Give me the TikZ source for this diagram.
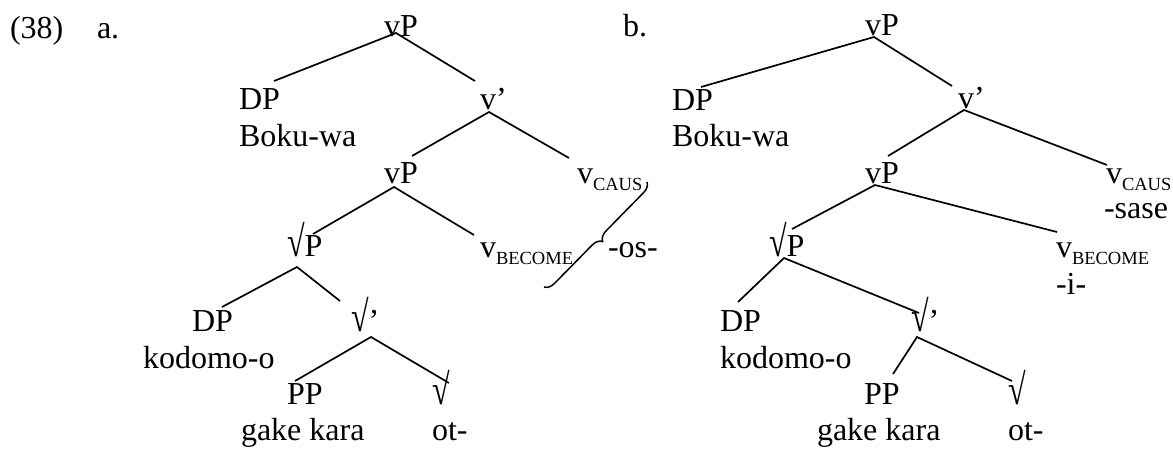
\documentclass[tikz,border=0pt]{standalone}
\usepackage{graphicx}
\usepackage{fontspec}
\setmainfont{Liberation Serif}
\usetikzlibrary{decorations.pathreplacing}
\newcommand\treefs{\fontsize{32}{37}\selectfont}
\newcommand\subfs{\fontsize{18.5}{20}\selectfont}
\newcommand\vsub[1]{v\raisebox{-7.5pt}{\subfs #1}}
\newcommand\sqrtsym{\scalebox{1}[1.35]{√}}
\begin{document}
\begin{tikzpicture}[x=1pt,y=-1pt,
  lbl/.style={anchor=base west,inner sep=0pt,outer sep=0pt,font=\treefs},
  edge/.style={line width=1.7pt},
  bracestyle/.style={line width=1.5pt,decorate,decoration={brace,amplitude=10pt}}]
\useasboundingbox (0,0) rectangle (1173,448);
% ---------- labels
\node[lbl] (ex) at (10,38) {(38)};
\node[lbl] (la) at (97,38) {a.};
\node[lbl] (lb) at (623,36) {b.};
% ---------- tree a
\node[lbl] (aR) at (384,36) {vP};
\node[lbl] (aDP) at (239,109) {DP};
\node[lbl] (aBoku) at (239,146) {Boku-wa};
\node[lbl] (aV) at (480,109) {v’};
\node[lbl] (aVP) at (384,183) {vP};
\node[lbl] (aCaus) at (577,183) {\vsub{CAUS}};
\node[lbl] (aRP) at (287,256) {\sqrtsym P};
\node[lbl] (aBec) at (480,257) {\vsub{BECOME}};
\node[lbl] (aOs) at (608,257) {-os-};
\node[lbl] (aDPb) at (192,331) {DP};
\node[lbl] (aKod) at (143,368) {kodomo-o};
\node[lbl] (aRb) at (351,331) {\sqrtsym’};
\node[lbl] (aPP) at (287,404) {PP};
\node[lbl] (aGake) at (241,440) {gake kara};
\node[lbl] (aRt) at (432,404) {\sqrtsym};
\node[lbl] (aOt) at (432,440) {ot-};
% ---------- tree b
\node[lbl] (bR) at (865,35) {vP};
\node[lbl] (bDP) at (672,110) {DP};
\node[lbl] (bBoku) at (672,146) {Boku-wa};
\node[lbl] (bV) at (958,108) {v’};
\node[lbl] (bVP) at (865,183) {vP};
\node[lbl] (bCaus) at (1106,183) {\vsub{CAUS}};
\node[lbl] (bSase) at (1104,218) {-sase};
\node[lbl] (bRP) at (769,256) {\sqrtsym P};
\node[lbl] (bBec) at (1056,257) {\vsub{BECOME}};
\node[lbl] (bI) at (1056,294) {-i-};
\node[lbl] (bDPb) at (720,331) {DP};
\node[lbl] (bKod) at (720,368) {kodomo-o};
\node[lbl] (bRb) at (911,331) {\sqrtsym’};
\node[lbl] (bPP) at (864,404) {PP};
\node[lbl] (bGake) at (817,440) {gake kara};
\node[lbl] (bRt) at (1008,404) {\sqrtsym};
\node[lbl] (bOt) at (1008,440) {ot-};
% ---------- connector points, tree a
\coordinate (aRj) at (396,33);
\coordinate (aDPt) at (274,81);
\coordinate (aVt) at (475,81);
\coordinate (aVj) at (489,112);
\coordinate (aVPt) at (412,156);
\coordinate (aCaust) at (569,158);
\coordinate (aVPj) at (394,187);
\coordinate (aRPt) at (313,234);
\coordinate (aBect) at (474,235);
\coordinate (aRPj) at (297,267);
\coordinate (aDPbt) at (222,307);
\coordinate (aRbt) at (340,301);
\coordinate (aRbj) at (371,337);
\coordinate (aPPt) at (295,381);
\coordinate (aRtt) at (449,383);
\coordinate (aBrTop) at (647,182);
\coordinate (aBrBot) at (544,287);
% ---------- connector points, tree b
\coordinate (bRj) at (874,37);
\coordinate (bDPt) at (701,87);
\coordinate (bVt) at (952,86);
\coordinate (bVj) at (964,110);
\coordinate (bVPt) at (888,156);
\coordinate (bCaust) at (1107,165);
\coordinate (bVPj) at (875,185);
\coordinate (bRPt) at (792,229);
\coordinate (bBect) at (1057,232);
\coordinate (bRPj) at (784,258);
\coordinate (bDPbt) at (738,302);
\coordinate (bRbt) at (919,313);
\coordinate (bRbj) at (917,337);
\coordinate (bPPt) at (893,374);
\coordinate (bRtt) at (1012,381);
% ---------- edges
\draw[edge] (aDPt) -- (aRj) -- (aVt);
\draw[edge] (aVPt) -- (aVj) -- (aCaust);
\draw[edge] (aRPt) -- (aVPj) -- (aBect);
\draw[edge] (aDPbt) -- (aRPj) -- (aRbt);
\draw[edge] (aPPt) -- (aRbj) -- (aRtt);
\draw[bracestyle] (aBrTop) -- (aBrBot);
\draw[edge] (bDPt) -- (bRj) -- (bVt);
\draw[edge] (bVPt) -- (bVj) -- (bCaust);
\draw[edge] (bRPt) -- (bVPj) -- (bBect);
\draw[edge] (bDPbt) -- (bRPj) -- (bRbt);
\draw[edge] (bPPt) -- (bRbj) -- (bRtt);
\end{tikzpicture}
\end{document}
